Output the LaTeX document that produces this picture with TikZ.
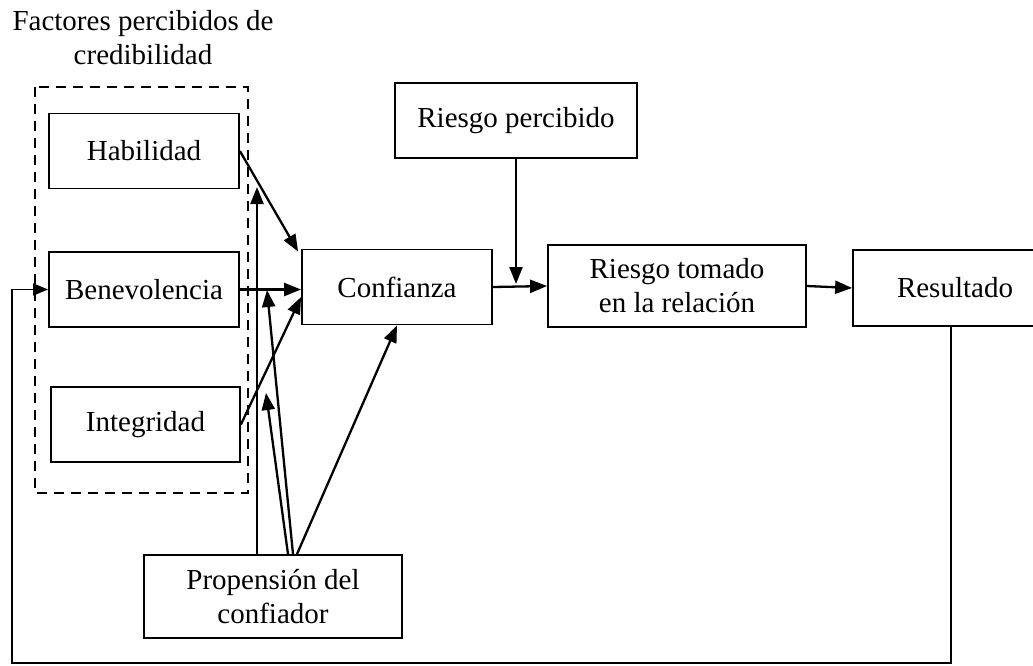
\documentclass[tikz,border=0pt]{standalone}
\usepackage{fontspec}
\setmainfont{Liberation Serif}
\usetikzlibrary{arrows.meta}

\begin{document}
\begin{tikzpicture}[x=0.5pt,y=-0.5pt,font=\fontsize{14.5}{17}\selectfont]

        \useasboundingbox (0,0) rectangle (1033,665);

        \node[align=center, inner sep=0pt] (0) at (143,37.5) {Factores percibidos de\\credibilidad};
        \draw[line width=1.1pt, dash pattern=on 5pt off 3.5pt] (35,87) rectangle (248,493);

        \begin{scope}[every node/.style={rectangle, draw, line width=0.9pt, align=center, minimum height=37.5pt}]
          \node[minimum width=95pt] (1)  at (144,151)   {Habilidad};
          \node[minimum width=95pt] (2)  at (144,289.5) {Benevolencia};
          \node[minimum width=94.5pt] (3)  at (145.5,424.5) {Integridad};
          \node[minimum width=95pt] (4)  at (397,287)   {Confianza};
          \node[minimum width=129pt, minimum height=41.5pt] (5)  at (273,596.5) {Propensión del\\confiador};
          \node[minimum width=121pt] (6)  at (516,120.5) {Riesgo percibido};
          \node[minimum width=129pt, minimum height=41pt] (7)  at (677,286) {Riesgo tomado\\en la relación};
          \node[minimum width=102pt, minimum height=38pt] (8)  at (955,288) {Resultado};
        \end{scope}

        \coordinate (a) at (257,187);
        \coordinate (b) at (266,393);
        \coordinate (c) at (267,290);
        \coordinate (d) at (516,284);
        \coordinate (e) at (12,663);

        \begin{scope}[every edge/.style={draw, line width=1.15pt, -{Triangle[length=8.5pt,width=6.5pt]}}]
          \path (1.east) edge ([shift={(-3,3)}]4.north west);
          \path (2.east) edge (2.east -| 4.west);
          \path (3.east) edge ([shift={(0,10)}]4.west);
          \path ([xshift=-8pt]5.north) edge (a);
          \path ([xshift=7.5pt]5.north) edge (b);
          \path ([xshift=10pt]5.north) edge (c);
          \path ([xshift=12pt]5.north) edge (4.south);
          \path (6.south) edge (d);
          \path (4.east) edge (7.west);
          \path (7.east) edge (8.west);
        \end{scope}

        \draw[line width=0.8pt, -{Triangle[length=7.5pt,width=6pt]}] ([xshift=-2pt]8.south) |- (e) |- (2.west);

      \end{tikzpicture}
\end{document}
